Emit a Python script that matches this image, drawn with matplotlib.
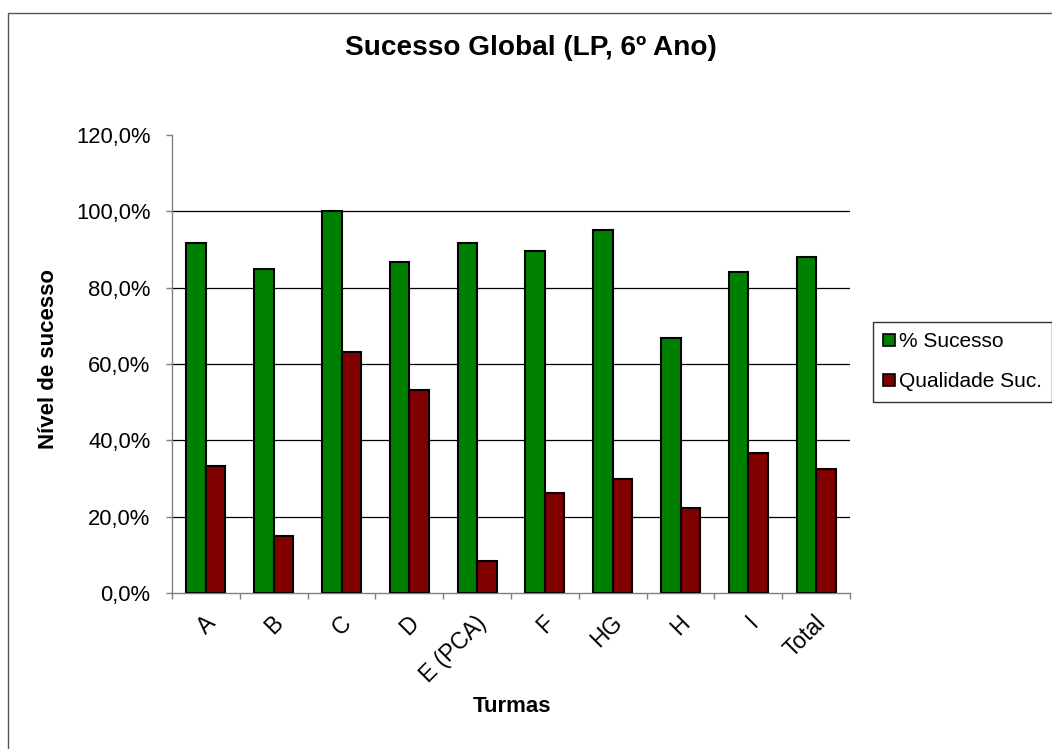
import matplotlib
matplotlib.use("Agg")
import matplotlib.pyplot as plt
from matplotlib.patches import Patch, Rectangle
from matplotlib.ticker import FuncFormatter
from matplotlib.transforms import ScaledTranslation
import numpy as np

plt.rcParams["font.family"] = ["Liberation Sans", "DejaVu Sans"]

# Data
turmas = ["A", "B", "C", "D", "E (PCA)", "F", "HG", "H", "I", "Total"]
sucesso = [91.7, 85.0, 100.0, 86.7, 91.7, 89.5, 95.0, 66.7, 84.2, 88.0]
qualidade = [33.3, 15.0, 63.2, 53.3, 8.3, 26.3, 30.0, 22.2, 36.8, 32.5]
y_ticks = [0.0, 20.0, 40.0, 60.0, 80.0, 100.0, 120.0]
series_names = ["% Sucesso", "Qualidade Suc."]
colors = ["#008000", "#800000"]

W, H = 1052, 749
fig = plt.figure(figsize=(W / 100, H / 100), dpi=100)

# outer chart-area frame
fig.patches.append(Rectangle((8 / W, -0.1), 1.2, 1 - 13 / H + 0.1,
                             transform=fig.transFigure, fill=False,
                             edgecolor="#555555", linewidth=1.0))

ax = fig.add_axes([172 / W, 1 - 593 / H, 678 / W, 458 / H])

x = np.arange(len(turmas))
bw = 0.288
ax.bar(x - bw / 2, np.array(sucesso) / 100, bw, color=colors[0],
       edgecolor="black", linewidth=1.5, zorder=3)
ax.bar(x + bw / 2, np.array(qualidade) / 100, bw, color=colors[1],
       edgecolor="black", linewidth=1.5, zorder=3)

ax.set_xlim(-0.5, len(turmas) - 0.5)
ax.set_ylim(0, y_ticks[-1] / 100)

# horizontal grid lines (inner ticks only)
for t in y_ticks[1:-1]:
    ax.axhline(t / 100, color="black", linewidth=0.9, zorder=1)

for s in ["top", "right"]:
    ax.spines[s].set_visible(False)
for s in ["left", "bottom"]:
    ax.spines[s].set_color("#808080")
    ax.spines[s].set_linewidth(1.0)

ax.set_yticks(np.array(y_ticks) / 100)
ax.yaxis.set_major_formatter(FuncFormatter(lambda v, p: f"{v * 100:.1f}%".replace(".", ",")))
ax.tick_params(axis="y", direction="out", length=4.5, width=1, color="#808080",
               labelsize=15.8, pad=11)

ax.set_xticks(np.arange(len(turmas) + 1) - 0.5)
ax.set_xticklabels([])
ax.set_xticks(x, minor=True)
ax.set_xticklabels(turmas, minor=True, rotation=45, ha="right", va="center",
                   rotation_mode="anchor")
ax.tick_params(axis="x", which="major", direction="out", length=4.5, width=1,
               color="#808080")
ax.tick_params(axis="x", which="minor", length=0, labelsize=16.5, pad=19)
shift = ScaledTranslation(6 / 100, 0, fig.dpi_scale_trans)
for lab in ax.get_xticklabels(minor=True):
    lab.set_transform(lab.get_transform() + shift)

fig.text(531 / W, 1 - 48 / H, "Sucesso Global (LP, 6º Ano)", ha="center",
         va="center", fontsize=20.2, fontweight="bold")
fig.text(49 / W, 1 - 359 / H, "Nível de sucesso", ha="center", va="center",
         rotation=90, fontsize=16, fontweight="bold")
fig.text(512 / W, 1 - 707 / H, "Turmas", ha="center", va="center",
         fontsize=16, fontweight="bold")

handles = [Patch(facecolor=c, edgecolor="black", linewidth=1.2) for c in colors]
leg = fig.legend(handles, series_names, loc="upper left",
                 bbox_to_anchor=(873 / W, 1 - 322 / H), fontsize=15,
                 frameon=True, fancybox=False, edgecolor="black",
                 handlelength=0.55, handleheight=0.55, handletextpad=0.2,
                 labelspacing=1.0, borderpad=0.5, borderaxespad=0)
leg.get_frame().set_linewidth(1.0)

fig.savefig("out.png", dpi=100)
